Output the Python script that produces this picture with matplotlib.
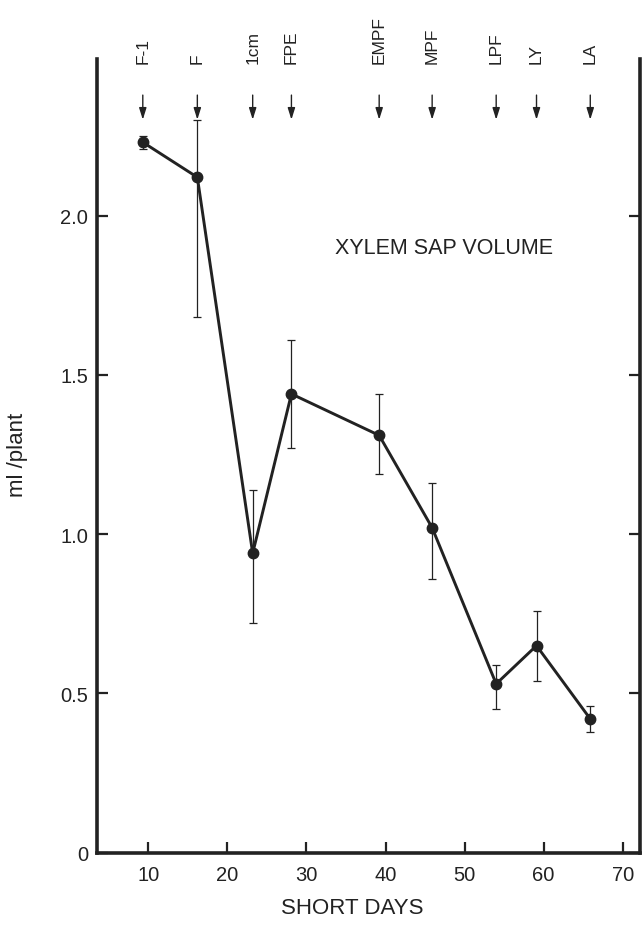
import matplotlib
matplotlib.use("Agg")
import matplotlib.pyplot as plt
import matplotlib.transforms as mtransforms
import numpy as np

plt.rcParams["font.family"] = ["Liberation Sans", "DejaVu Sans"]

# Sampling days and developmental stages
days = [9.3, 16.2, 23.2, 28.1, 39.2, 45.9, 54.0, 59.1, 65.9]
stages = ["F-1", "F", "1cm", "FPE", "EMPF", "MPF", "LPF", "LY", "LA"]

# Xylem sap volume (ml/plant) with error bar ends
volume = [2.23, 2.12, 0.94, 1.44, 1.31, 1.02, 0.53, 0.65, 0.42]
upper = [2.25, 2.30, 1.14, 1.61, 1.44, 1.16, 0.59, 0.76, 0.46]
lower = [2.21, 1.68, 0.72, 1.27, 1.19, 0.86, 0.45, 0.54, 0.38]

xticks = [10, 20, 30, 40, 50, 60, 70]
yticks = [0, 0.5, 1.0, 1.5, 2.0]
ytick_labels = ["0", "0.5", "1.0", "1.5", "2.0"]

ink = "#222222"

fig = plt.figure(figsize=(6.42, 9.29), dpi=100)
ax = fig.add_axes([0.151, 0.081, 0.846, 0.854])

vol = np.array(volume)
yerr = [vol - np.array(lower), np.array(upper) - vol]
ax.errorbar(days, volume, yerr=yerr, fmt="none", ecolor=ink,
            elinewidth=0.9, capsize=3, capthick=0.9, zorder=2)
ax.plot(days, volume, "-o", color=ink, lw=2.1, markersize=7.5, zorder=3)

ax.set_xlim(3.5, 72.2)
ax.set_ylim(0, 2.49)

ax.spines["top"].set_visible(False)
for side in ["left", "bottom", "right"]:
    ax.spines[side].set_linewidth(2.6)
    ax.spines[side].set_color(ink)

ax.set_xticks(xticks)
ax.set_yticks(yticks)
ax.set_yticklabels(ytick_labels)
ax.tick_params(axis="both", direction="in", length=8, width=1.6,
               color=ink, labelcolor=ink, labelsize=14.5)
ax.tick_params(axis="x", pad=9)
ax.tick_params(axis="y", pad=6.5, right=True)

fig.text(0.548, 0.0226, "SHORT DAYS", fontsize=16, color=ink,
         ha="center", va="center")
fig.text(0.028, 0.51, "ml /plant", rotation=90, fontsize=16,
         color=ink, ha="center", va="center")

ax.text(0.438, 0.763, "XYLEM SAP VOLUME", transform=ax.transAxes,
        fontsize=15.5, color=ink, ha="left", va="center")

# Stage markers along the top: arrow and rotated label per sampling day
trans = mtransforms.blended_transform_factory(ax.transData, ax.transAxes)
for d, s in zip(days, stages):
    ax.annotate("", xy=(d, 0.924), xytext=(d, 0.955), xycoords=trans,
                textcoords=trans,
                arrowprops=dict(arrowstyle="-|>,head_length=0.7,head_width=0.22",
                                color=ink, lw=1.0, shrinkA=0, shrinkB=0))
    ax.text(d, 0.996, s, transform=trans, rotation=90, fontsize=12.5,
            color=ink, ha="center", va="bottom", clip_on=False)

fig.savefig("out.png", dpi=100)
